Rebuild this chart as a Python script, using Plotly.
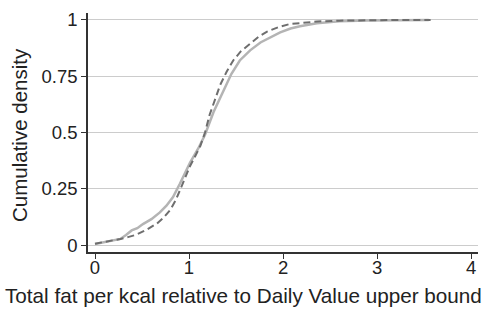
import plotly.graph_objects as go

solid_x = [0, 0.1, 0.2, 0.27, 0.33, 0.39, 0.45, 0.51, 0.6, 0.69, 0.76, 0.83, 0.9, 0.95, 1.01, 1.1, 1.17, 1.26, 1.38, 1.45, 1.54, 1.65, 1.76, 1.87, 1.97, 2.08, 2.18, 2.36, 2.6, 2.9, 3.2, 3.55]
solid_y = [0.005, 0.012, 0.02, 0.027, 0.045, 0.065, 0.075, 0.093, 0.115, 0.145, 0.175, 0.213, 0.27, 0.315, 0.365, 0.43, 0.49, 0.59, 0.70, 0.76, 0.82, 0.865, 0.9, 0.925, 0.945, 0.962, 0.972, 0.985, 0.994, 0.998, 0.999, 1.0]

dash_x = [0, 0.1, 0.2, 0.27, 0.35, 0.44, 0.55, 0.66, 0.73, 0.8, 0.86, 0.9, 0.95, 1.01, 1.06, 1.12, 1.17, 1.22, 1.28, 1.33, 1.4, 1.47, 1.55, 1.65, 1.74, 1.83, 1.95, 2.07, 2.2, 2.36, 2.6, 2.9, 3.2, 3.57]
dash_y = [0.006, 0.013, 0.02, 0.027, 0.035, 0.046, 0.068, 0.096, 0.122, 0.156, 0.2, 0.24, 0.29, 0.35, 0.39, 0.44, 0.50, 0.58, 0.65, 0.71, 0.77, 0.82, 0.86, 0.896, 0.925, 0.948, 0.968, 0.982, 0.988, 0.993, 0.997, 0.999, 1.0, 1.0]

x_ticks = [0, 1, 2, 3, 4]
y_ticks = [0, 0.25, 0.5, 0.75, 1]
y_tick_text = ["0", "0.25", "0.5", "0.75", "1"]
x_title = "Total fat per kcal relative to Daily Value upper bound"
y_title = "Cumulative density"

W, H = 487, 309
L, R, T, B = 88, 9, 13, 57
pw, ph = W - L - R, H - T - B

fig = go.Figure()
fig.add_trace(go.Scatter(x=solid_x, y=solid_y, mode="lines",
                         line=dict(color="#b4b4b4", width=2.5), showlegend=False))
fig.add_trace(go.Scatter(x=dash_x, y=dash_y, mode="lines",
                         line=dict(color="#6e6e6e", width=2, dash="7px,4px"), showlegend=False))

fam = "Liberation Sans, Arial, sans-serif"
tickfont = dict(family=fam, size=18.5, color="#222222")
fig.update_layout(
    width=W, height=H,
    margin=dict(l=L, r=R, t=T, b=B),
    paper_bgcolor="white", plot_bgcolor="white",
    font=dict(family=fam, color="#222222"),
    xaxis=dict(range=[-0.0745, 4.074], tickvals=x_ticks, ticktext=[str(v) for v in x_ticks],
               showgrid=False, zeroline=False, showline=True, linecolor="#333333", linewidth=1.5,
               ticks="outside", ticklen=5, tickcolor="#333333", tickwidth=1.2,
               ticklabelstandoff=-7,
               automargin=False, tickfont=tickfont),
    yaxis=dict(range=[-0.031, 1.031], tickvals=y_ticks, ticktext=y_tick_text,
               showgrid=True, gridcolor="#cccccc", gridwidth=1, zeroline=False,
               showline=True, linecolor="#333333", linewidth=1.5,
               ticks="outside", ticklen=5, tickcolor="#333333", tickwidth=1.2,
               automargin=False, tickfont=tickfont),
    annotations=[
        dict(text=x_title, xref="paper", yref="paper",
             x=(W / 2 - L) / pw, y=(T + ph - 295) / ph, xanchor="center", yanchor="middle",
             showarrow=False, font=dict(family=fam, size=20.7, color="#222222")),
        dict(text=y_title, xref="paper", yref="paper", textangle=-90,
             x=(19 - L) / pw, y=(T + ph - 135) / ph, xanchor="center", yanchor="middle",
             showarrow=False, font=dict(family=fam, size=20.5, color="#222222")),
    ],
)
fig.write_html("out.html", config={"displayModeBar": False},
               post_script="document.body.style.margin='0';")
